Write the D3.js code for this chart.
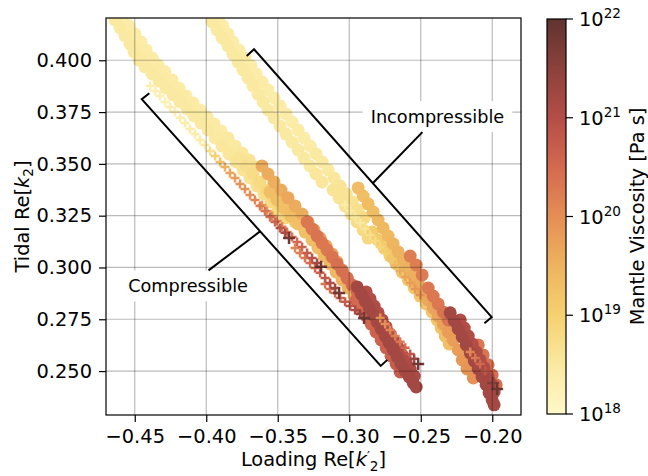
<!DOCTYPE html>
<html>
<head>
<meta charset="utf-8">
<script src="https://cdn.jsdelivr.net/npm/d3@7/dist/d3.min.js"></script>
<style>
body { margin: 0; background: #fff; }
svg { display: block; font-family: "DejaVu Sans", sans-serif; }
</style>
</head>
<body>
<svg id="chart" width="648" height="476"></svg>
<script>
// tick values
var xTicks = [-0.45, -0.40, -0.35, -0.30, -0.25, -0.20];
var yTicks = [0.250, 0.275, 0.300, 0.325, 0.350, 0.375, 0.400];
var cbarTicks = [18, 19, 20, 21, 22];
var cmapLevels = [18, 18.5, 19, 19.5, 20, 20.5, 21, 21.5, 22];
var cmapColours = ["#fff8c8", "#fae9a0", "#f5d170", "#eeb35f", "#e58e55", "#d4694f", "#b44d47", "#8c413c", "#60332f"];

// points: [loading Re h'2, tidal Re k2, log10 viscosity]
// compressible, circles
var compA = [[-0.4582,0.4204,18.4],[-0.4540,0.4166,18.4],[-0.4498,0.4127,18.45],[-0.4456,0.4088,18.4],[-0.4421,0.4050,18.4],
	[-0.4379,0.4011,18.45],[-0.4337,0.3977,18.4],[-0.4288,0.3944,18.4],[-0.4239,0.3905,18.45],[-0.4190,0.3866,18.4],
	[-0.4141,0.3828,18.4],[-0.4092,0.3794,18.45],[-0.4043,0.3760,18.4],[-0.3994,0.3726,18.4],[-0.3945,0.3693,18.45],
	[-0.3896,0.3659,18.4],[-0.3848,0.3625,18.5],[-0.3799,0.3586,18.5],[-0.3750,0.3553,18.55],[-0.3701,0.3519,18.6],[-0.3659,0.3485,18.7]];
var compB = [[-0.4638,0.4195,18.5],[-0.4603,0.4156,18.5],[-0.4568,0.4117,18.5],[-0.4533,0.4079,18.5],[-0.4505,0.4040,18.5],
	[-0.4470,0.4001,18.5],[-0.4428,0.3968,18.5],[-0.4379,0.3934,18.5],[-0.4330,0.3900,18.5],[-0.4281,0.3866,18.5],
	[-0.4232,0.3833,18.5],[-0.4183,0.3799,18.5],[-0.4134,0.3765,18.5],[-0.4085,0.3731,18.5],[-0.4036,0.3697,18.5],
	[-0.3987,0.3664,18.5],[-0.3938,0.3625,18.5],[-0.3890,0.3586,18.55],[-0.3841,0.3548,18.55],[-0.3792,0.3509,18.6],
	[-0.3743,0.3471,18.6],[-0.3694,0.3432,18.65],[-0.3645,0.3393,18.7],[-0.3596,0.3355,18.75],[-0.3547,0.3316,18.8],
	[-0.3498,0.3278,18.85],[-0.3449,0.3239,18.9]];
var compC = [[-0.4554,0.4146,18.45],[-0.4512,0.4098,18.45],[-0.4463,0.4059,18.45],[-0.4414,0.4016,18.45],[-0.4365,0.3982,18.45],
	[-0.4316,0.3944,18.45],[-0.4267,0.3905,18.45],[-0.4211,0.3866,18.45],[-0.4162,0.3828,18.45],[-0.4113,0.3789,18.45],
	[-0.4064,0.3751,18.45],[-0.4015,0.3712,18.45],[-0.3966,0.3678,18.45],[-0.3917,0.3644,18.45],[-0.3869,0.3606,18.5],
	[-0.3820,0.3567,18.5],[-0.3771,0.3528,18.6],[-0.3722,0.3490,18.7],[-0.3673,0.3451,18.75],[-0.3624,0.3413,18.8],
	[-0.3575,0.3374,18.85],[-0.3526,0.3336,18.9],[-0.3477,0.3297,19.0],[-0.3428,0.3258,19.05],[-0.3379,0.3220,19.1]];
var compD = [[-0.3610,0.3490,19.6],[-0.3568,0.3451,19.6],[-0.3526,0.3413,19.55],[-0.3477,0.3374,19.6],[-0.3428,0.3336,19.65],
	[-0.3379,0.3297,19.6],[-0.3330,0.3258,19.6],[-0.3288,0.3220,19.65],[-0.3246,0.3181,19.7],[-0.3204,0.3142,19.7],
	[-0.3162,0.3104,19.65],[-0.3120,0.3065,19.7],[-0.3085,0.3027,19.75],[-0.3050,0.2988,19.8],[-0.3015,0.2949,19.8]];
var compE = [[-0.3554,0.3364,19.3],[-0.3505,0.3326,19.3],[-0.3456,0.3287,19.3],[-0.3407,0.3249,19.35],[-0.3358,0.3210,19.3],
	[-0.3309,0.3171,19.3],[-0.3260,0.3133,19.35],[-0.3218,0.3094,19.35],[-0.3176,0.3055,19.4],[-0.3134,0.3017,19.4],
	[-0.3092,0.2978,19.4],[-0.3050,0.2940,19.45],[-0.3008,0.2901,19.5],[-0.2966,0.2862,19.5]];
var compF = [[-0.3295,0.3220,20.3],[-0.3260,0.3186,20.3],[-0.3225,0.3152,20.35],[-0.3190,0.3118,20.3],[-0.3155,0.3085,20.3],
	[-0.3120,0.3051,20.35],[-0.3085,0.3017,20.4],[-0.3050,0.2983,20.4],[-0.3015,0.2949,20.4],[-0.2980,0.2915,20.45],
	[-0.2945,0.2882,20.5],[-0.2952,0.2843,20.5],[-0.2917,0.2805,20.5],[-0.2882,0.2766,20.55],[-0.2847,0.2727,20.55],
	[-0.2813,0.2689,20.6],[-0.2777,0.2650,20.6],[-0.2742,0.2612,20.6],[-0.2708,0.2573,20.65],[-0.2672,0.2534,20.7],[-0.2644,0.2496,20.7]];
var compG = [[-0.2945,0.2906,21.2],[-0.2917,0.2872,21.2],[-0.2889,0.2838,21.2],[-0.2861,0.2805,21.2],[-0.2833,0.2771,21.2],
	[-0.2805,0.2737,21.2],[-0.2777,0.2703,21.2],[-0.2749,0.2669,21.2],[-0.2721,0.2636,21.2],[-0.2693,0.2602,21.2],
	[-0.2665,0.2568,21.2],[-0.2637,0.2534,21.2],[-0.2609,0.2500,21.2],[-0.2581,0.2472,21.2],[-0.2553,0.2443,21.2],[-0.2532,0.2423,21.2]];
var compH = [[-0.2882,0.2882,21.0],[-0.2854,0.2848,21.0],[-0.2826,0.2814,21.05],[-0.2798,0.2781,21.0],[-0.2770,0.2747,21.05],
	[-0.2742,0.2713,21.0],[-0.2714,0.2679,21.05],[-0.2686,0.2645,21.0],[-0.2658,0.2612,21.05],[-0.2630,0.2578,21.0],
	[-0.2602,0.2544,21.05],[-0.2574,0.2510,21.1],[-0.2546,0.2476,21.1]];

// compressible, plus markers
var compPlusA = [[-0.4393,0.3876,18.3],[-0.4358,0.3852,18.3],[-0.4323,0.3828,18.3],[-0.4288,0.3799,18.3],[-0.4253,0.3775,18.35],
	[-0.4218,0.3751,18.35],[-0.4183,0.3722,18.35],[-0.4148,0.3697,18.4],[-0.4113,0.3668,18.4],[-0.4078,0.3644,18.4],
	[-0.4043,0.3615,18.4],[-0.4008,0.3591,18.5],[-0.3973,0.3562,18.7],[-0.3938,0.3538,19.0],[-0.3903,0.3509,19.3],
	[-0.3869,0.3485,19.5],[-0.3834,0.3456,19.7],[-0.3799,0.3432,19.8],[-0.3764,0.3403,19.9],[-0.3729,0.3379,19.95],
	[-0.3694,0.3350,20.0],[-0.3659,0.3326,20.1],[-0.3624,0.3297,20.25],[-0.3589,0.3273,20.35],[-0.3554,0.3244,20.45],
	[-0.3519,0.3220,20.6],[-0.3484,0.3191,20.8],[-0.3449,0.3167,21.1],[-0.3421,0.3142,21.8]];
var compPlusB = [[-0.3610,0.3302,19.8],[-0.3575,0.3273,19.9],[-0.3540,0.3249,20.0],[-0.3505,0.3224,20.1],[-0.3470,0.3196,20.2],
	[-0.3435,0.3171,20.3],[-0.3400,0.3147,20.4],[-0.3365,0.3123,20.5],[-0.3330,0.3099,20.6],[-0.3295,0.3070,20.7],
	[-0.3260,0.3046,20.9],[-0.3225,0.3022,21.2],[-0.3197,0.3003,21.8]];
var compPlusC = [[-0.3379,0.3094,20.1],[-0.3344,0.3070,20.2],[-0.3309,0.3046,20.3],[-0.3274,0.3022,20.4],[-0.3239,0.2998,20.5],
	[-0.3204,0.2974,20.6],[-0.3169,0.2949,20.8],[-0.3134,0.2925,21.0],[-0.3099,0.2901,21.3],[-0.3071,0.2877,21.8]];
var compPlusD = [[-0.3169,0.2920,20.3],[-0.3134,0.2896,20.4],[-0.3099,0.2877,20.5],[-0.3064,0.2853,20.6],[-0.3029,0.2834,20.7],
	[-0.2994,0.2814,20.9],[-0.2959,0.2795,21.1],[-0.2924,0.2776,21.4],[-0.2896,0.2756,21.8]];
var compPlusE = [[-0.2784,0.2756,19.9],[-0.2749,0.2727,20.0],[-0.2714,0.2698,20.1],[-0.2679,0.2669,20.2],[-0.2644,0.2641,20.3],
	[-0.2609,0.2612,20.5],[-0.2574,0.2583,20.8],[-0.2546,0.2559,21.3],[-0.2518,0.2534,21.8]];

// incompressible, circles
var incA = [[-0.3917,0.4204,18.4],[-0.3883,0.4166,18.4],[-0.3848,0.4127,18.45],[-0.3813,0.4088,18.4],[-0.3771,0.4050,18.4],
	[-0.3729,0.4011,18.45],[-0.3687,0.3973,18.4],[-0.3652,0.3934,18.4],[-0.3610,0.3895,18.45],[-0.3568,0.3857,18.4],
	[-0.3526,0.3818,18.4],[-0.3484,0.3779,18.45],[-0.3442,0.3741,18.4],[-0.3400,0.3702,18.4],[-0.3358,0.3664,18.45],
	[-0.3316,0.3625,18.4],[-0.3274,0.3586,18.45],[-0.3232,0.3548,18.5],[-0.3190,0.3509,18.5],[-0.3148,0.3471,18.5],
	[-0.3106,0.3432,18.55],[-0.3064,0.3393,18.6],[-0.3022,0.3355,18.6],[-0.2980,0.3316,18.65],[-0.2938,0.3278,18.7],[-0.2896,0.3239,18.8]];
var incB = [[-0.3959,0.4185,18.5],[-0.3924,0.4146,18.5],[-0.3890,0.4108,18.5],[-0.3848,0.4069,18.5],[-0.3813,0.4030,18.5],
	[-0.3778,0.3992,18.5],[-0.3743,0.3953,18.5],[-0.3708,0.3915,18.5],[-0.3673,0.3876,18.5],[-0.3638,0.3837,18.5],
	[-0.3603,0.3799,18.5],[-0.3568,0.3760,18.5],[-0.3526,0.3722,18.5],[-0.3484,0.3683,18.5],[-0.3442,0.3644,18.5],
	[-0.3400,0.3606,18.5],[-0.3358,0.3567,18.5],[-0.3316,0.3528,18.5],[-0.3274,0.3490,18.5],[-0.3232,0.3451,18.55],
	[-0.3190,0.3413,18.55],[-0.3113,0.3374,18.6],[-0.3071,0.3336,18.6],[-0.3029,0.3297,18.65],[-0.2987,0.3258,18.7],
	[-0.2945,0.3220,18.75],[-0.2903,0.3181,18.8],[-0.2868,0.3142,18.85]];
var incC = [[-0.2938,0.3384,19.35],[-0.2903,0.3345,19.3],[-0.2868,0.3307,19.35],[-0.2833,0.3268,19.35],[-0.2798,0.3229,19.4],
	[-0.2763,0.3191,19.4],[-0.2728,0.3152,19.4],[-0.2693,0.3114,19.45],[-0.2658,0.3075,19.5],[-0.2623,0.3036,19.5],
	[-0.2588,0.2998,19.5],[-0.2553,0.2959,19.55],[-0.2518,0.2920,19.6],[-0.2483,0.2882,19.6],[-0.2448,0.2843,19.65],
	[-0.2413,0.2805,19.7],[-0.2378,0.2766,19.7],[-0.2343,0.2727,19.75],[-0.2308,0.2689,19.8],[-0.2273,0.2650,19.8]];
var incD = [[-0.2840,0.3171,19.1],[-0.2798,0.3133,19.1],[-0.2756,0.3094,19.1],[-0.2714,0.3055,19.15],[-0.2672,0.3017,19.1],
	[-0.2630,0.2978,19.15],[-0.2588,0.2940,19.1],[-0.2546,0.2901,19.15],[-0.2504,0.2862,19.2],[-0.2462,0.2824,19.2],
	[-0.2420,0.2785,19.2],[-0.2385,0.2747,19.2],[-0.2357,0.2708,19.25],[-0.2329,0.2669,19.3],[-0.2301,0.2631,19.3]];
var incE = [[-0.2574,0.3055,20.2],[-0.2532,0.3012,20.2],[-0.2490,0.2964,20.25],[-0.2448,0.2901,20.3],[-0.2413,0.2862,20.3],
	[-0.2378,0.2824,20.3],[-0.2343,0.2785,20.35],[-0.2308,0.2747,20.35],[-0.2098,0.2626,20.3],[-0.2064,0.2578,20.35],
	[-0.2029,0.2530,20.4],[-0.2001,0.2481,20.4],[-0.1973,0.2434,20.45]];
var incF = [[-0.2238,0.2602,19.8],[-0.2210,0.2554,19.85],[-0.2176,0.2510,19.9],[-0.2133,0.2467,19.95]];
var incG = [[-0.2294,0.2781,21.2],[-0.2266,0.2742,21.2],[-0.2238,0.2703,21.2],[-0.2210,0.2665,21.2],[-0.2182,0.2626,21.2],
	[-0.2154,0.2587,21.2],[-0.2126,0.2549,21.2],[-0.2098,0.2510,21.2],[-0.2071,0.2472,21.2],[-0.2043,0.2434,21.2],
	[-0.2022,0.2394,21.2],[-0.2001,0.2361,21.2],[-0.1987,0.2337,21.2]];
var incH = [[-0.2224,0.2747,21.0],[-0.2196,0.2708,21.0],[-0.2168,0.2669,21.05],[-0.2140,0.2631,21.0],[-0.2112,0.2592,21.05],
	[-0.2085,0.2554,21.0],[-0.2057,0.2515,21.05],[-0.2029,0.2476,21.0],[-0.2008,0.2439,21.05],[-0.1987,0.2399,21.1]];

// incompressible, plus markers
var incPlusA = [[-0.3029,0.3302,18.4],[-0.2994,0.3273,18.4],[-0.2959,0.3244,18.5],[-0.2924,0.3215,18.5],[-0.2889,0.3186,18.6],
	[-0.2854,0.3157,18.7],[-0.2819,0.3128,18.8],[-0.2784,0.3099,18.9],[-0.2749,0.3070,19.0],[-0.2714,0.3041,19.2],
	[-0.2679,0.3012,19.4],[-0.2644,0.2983,19.6],[-0.2609,0.2954,19.7],[-0.2574,0.2925,19.8],[-0.2539,0.2896,19.9],[-0.2504,0.2867,20.0]];
var incPlusB = [[-0.2154,0.2592,20.1],[-0.2119,0.2563,20.3],[-0.2085,0.2534,20.5],[-0.2050,0.2500,20.8],[-0.2022,0.2472,21.2],
	[-0.1994,0.2443,21.6],[-0.1966,0.2414,21.9]];

// annotations (data coordinates)
var compBracket = [[-0.4398,0.3841],[-0.4451,0.3812],[-0.2780,0.2525],[-0.2734,0.2554]];
var incBracket = [[-0.3717,0.4021],[-0.3666,0.4053],[-0.2004,0.2760],[-0.2055,0.2731]];
var notes = [
	{text: "Compressible", at: [-0.4127, 0.2911], tip: [-0.3624, 0.3174]},
	{text: "Incompressible", at: [-0.2383, 0.3728], tip: [-0.2834, 0.3408]}
];

var plot = {left: 106, right: 521, top: 18, bottom: 415};
var cbar = {left: 547, right: 566, top: 19, bottom: 414};
var fs = 19.4;

var svg = d3.select("#chart");
var xScale = d3.scaleLinear().domain([-0.4701, -0.1799]).range([plot.left, plot.right]);
var yScale = d3.scaleLinear().domain([0.2288, 0.4204]).range([plot.bottom, plot.top]);
var colour = d3.scaleLinear().domain(cmapLevels).range(cmapColours).clamp(true);

var defs = svg.append("defs");
defs.append("clipPath").attr("id", "plotClip").append("rect")
	.attr("x", plot.left).attr("y", plot.top)
	.attr("width", plot.right - plot.left).attr("height", plot.bottom - plot.top);

var byVisc = function (a, b) { return a[2] - b[2]; };
var circles = [].concat(compA, compB, compC, compD, compE, compF, compG, compH,
	incA, incB, incC, incD, incE, incF, incG, incH).sort(byVisc);
var pluses = [].concat(compPlusA, compPlusB, compPlusC, compPlusD, compPlusE, incPlusA, incPlusB).sort(byVisc);

var marks = svg.append("g").attr("clip-path", "url(#plotClip)");
marks.selectAll("circle")
	.data(circles)
	.enter()
	.append("circle")
	.attr("cx", function (d) { return xScale(d[0]); })
	.attr("cy", function (d) { return yScale(d[1]); })
	.attr("r", 6.5)
	.attr("fill", function (d) { return colour(d[2]); });
marks.selectAll("path.plus")
	.data(pluses)
	.enter()
	.append("path")
	.classed("plus", true)
	.attr("transform", function (d) { return "translate(" + xScale(d[0]) + "," + yScale(d[1]) + ")"; })
	.attr("d", function (d) { return d[2] > 21.5 ? "M-6,0H6M0,-6V6" : "M-4.5,0H4.5M0,-4.5V4.5"; })
	.attr("stroke", function (d) { return colour(d[2]); })
	.attr("stroke-width", 2.5)
	.attr("fill", "none");

// grid on top of the points
var grid = svg.append("g").attr("stroke", "#000").attr("stroke-opacity", 0.27).attr("stroke-width", 1.2);
grid.selectAll("line.gx")
	.data(xTicks)
	.enter()
	.append("line")
	.attr("x1", function (d) { return xScale(d); })
	.attr("x2", function (d) { return xScale(d); })
	.attr("y1", plot.top).attr("y2", plot.bottom);
grid.selectAll("line.gy")
	.data(yTicks)
	.enter()
	.append("line")
	.attr("y1", function (d) { return yScale(d); })
	.attr("y2", function (d) { return yScale(d); })
	.attr("x1", plot.left).attr("x2", plot.right);

// brackets
var line = d3.line()
	.x(function (d) { return xScale(d[0]); })
	.y(function (d) { return yScale(d[1]); });
[compBracket, incBracket].forEach(function (b) {
	svg.append("path")
		.attr("d", line(b))
		.attr("fill", "none")
		.attr("stroke", "#000")
		.attr("stroke-width", 2);
});

// annotation labels with white boxes
notes.forEach(function (n) {
	var cx = xScale(n.at[0]), cy = yScale(n.at[1]);
	var g = svg.append("g");
	var box = g.append("rect").attr("fill", "#fff");
	var t = g.append("text")
		.attr("x", cx).attr("y", cy + 6)
		.attr("text-anchor", "middle")
		.attr("font-size", 17.7)
		.text(n.text);
	var hw = t.node().getComputedTextLength() / 2 + 8, hh = 15.5;
	box.attr("x", cx - hw).attr("y", cy - hh).attr("width", 2 * hw).attr("height", 2 * hh);
	var tx = xScale(n.tip[0]), ty = yScale(n.tip[1]);
	var dx = tx - cx, dy = ty - cy;
	var s = Math.min(hw / Math.abs(dx), hh / Math.abs(dy));
	svg.append("line")
		.attr("x1", cx + dx * s).attr("y1", cy + dy * s)
		.attr("x2", tx).attr("y2", ty)
		.attr("stroke", "#000")
		.attr("stroke-width", 2);
});

// frame
svg.append("rect")
	.attr("x", plot.left).attr("y", plot.top)
	.attr("width", plot.right - plot.left).attr("height", plot.bottom - plot.top)
	.attr("fill", "none").attr("stroke", "#000").attr("stroke-width", 1.2);

// axes
var xAxis = d3.axisBottom(xScale).tickValues(xTicks).tickSize(7).tickPadding(7).tickFormat(d3.format(".2f"));
var yAxis = d3.axisLeft(yScale).tickValues(yTicks).tickSize(7).tickPadding(7).tickFormat(d3.format(".3f"));
var gx = svg.append("g").attr("transform", "translate(0," + plot.bottom + ")").call(xAxis);
var gy = svg.append("g").attr("transform", "translate(" + plot.left + ",0)").call(yAxis);
[gx, gy].forEach(function (g) {
	g.select(".domain").remove();
	g.selectAll("line").attr("stroke-width", 1.2);
	g.selectAll("text").attr("font-size", fs).attr("font-family", "DejaVu Sans").attr("fill", "#000");
});

// axis labels
var xl = svg.append("text")
	.attr("x", (plot.left + plot.right) / 2).attr("y", 466)
	.attr("text-anchor", "middle").attr("font-size", fs);
xl.append("tspan").text("Loading Re[");
xl.append("tspan").attr("font-style", "italic").text("k");
xl.append("tspan").attr("font-size", 13).attr("dy", -6).text("\u2032");
xl.append("tspan").attr("font-size", 13.6).attr("dx", 0).attr("dy", 11).text("2");
xl.append("tspan").attr("dy", -5).text("]");

var yl = svg.append("text")
	.attr("transform", "translate(29," + (plot.top + plot.bottom) / 2 + ") rotate(-90)")
	.attr("text-anchor", "middle").attr("font-size", fs);
yl.append("tspan").text("Tidal Re[");
yl.append("tspan").attr("font-style", "italic").text("k");
yl.append("tspan").attr("font-size", 13.6).attr("dy", 4).text("2");
yl.append("tspan").attr("dy", -4).text("]");

// colour bar
var grad = defs.append("linearGradient").attr("id", "cbarGrad")
	.attr("x1", 0).attr("y1", 1).attr("x2", 0).attr("y2", 0);
grad.selectAll("stop")
	.data(cmapLevels)
	.enter()
	.append("stop")
	.attr("offset", function (d) { return (d - 18) / 4; })
	.attr("stop-color", function (d) { return colour(d); });
svg.append("rect")
	.attr("x", cbar.left).attr("y", cbar.top)
	.attr("width", cbar.right - cbar.left).attr("height", cbar.bottom - cbar.top)
	.attr("fill", "url(#cbarGrad)")
	.attr("stroke", "#000").attr("stroke-width", 1.2);
var cScale = d3.scaleLinear().domain([18, 22]).range([cbar.bottom, cbar.top]);
var ct = svg.append("g").selectAll("g")
	.data(cbarTicks)
	.enter()
	.append("g")
	.attr("transform", function (d) { return "translate(" + cbar.right + "," + cScale(d) + ")"; });
ct.append("line").attr("x2", 7).attr("stroke", "#000").attr("stroke-width", 1.2);
var ctText = ct.append("text").attr("x", 13).attr("y", 7).attr("font-size", fs);
ctText.append("tspan").text("10");
ctText.append("tspan").attr("font-size", 13.6).attr("dy", -8).text(function (d) { return d; });

svg.append("text")
	.attr("transform", "translate(644," + (cbar.top + cbar.bottom) / 2 + ") rotate(-90)")
	.attr("text-anchor", "middle").attr("font-size", fs)
	.text("Mantle Viscosity [Pa s]");
</script>
</body>
</html>
